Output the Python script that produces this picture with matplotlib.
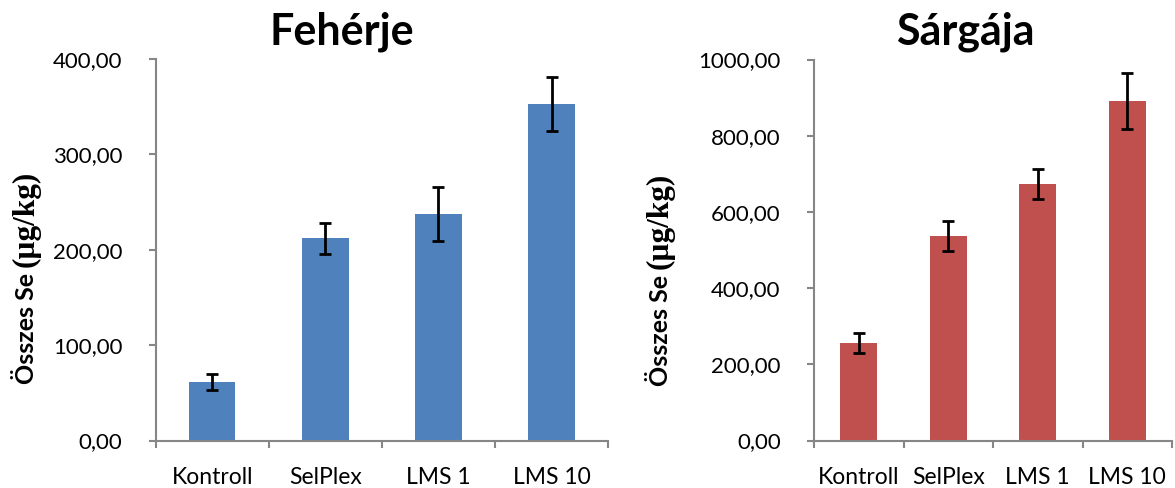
import matplotlib.pyplot as plt
import numpy as np

groups = ["Kontroll", "SelPlex", "LMS 1", "LMS 10"]

# egg white (Fehérje) total Se, mean and error
feherje_mean = [61.5, 212.0, 237.5, 353.0]
feherje_err = [8.5, 16.0, 28.3, 28.3]

# yolk (Sárgája) total Se, mean and error
sargaja_mean = [256.0, 538.0, 674.0, 891.0]
sargaja_err = [27.0, 39.5, 39.5, 73.0]

ylabel = "Összes Se "
unit = "(µg/kg)"

plt.rcParams["font.family"] = ["Lato", "DejaVu Sans"]
axis_grey = "#868686"

fig = plt.figure(figsize=(11.75, 4.88), dpi=100)
ax1 = fig.add_axes([0.1325, 0.0973, 0.3850, 0.7817])
ax2 = fig.add_axes([0.6928, 0.0973, 0.3047, 0.7807])


def draw_panel(ax, means, errs, color, ymax, step):
    x = np.arange(len(groups))
    ax.bar(x, means, width=0.41, color=color, zorder=2)
    ax.errorbar(x, means, yerr=errs, fmt="none", ecolor="black",
                elinewidth=2.0, capsize=4.3, capthick=2.0, zorder=3)
    ax.set_xlim(-0.5, len(groups) - 0.5)
    ax.set_ylim(0, ymax)
    yt = np.arange(0, ymax + 1, step)
    ax.set_yticks(yt)
    ax.set_yticklabels([f"{v:.2f}".replace(".", ",") for v in yt])
    ax.set_xticks(x)
    ax.set_xticklabels(groups)
    ax.set_xticks(np.arange(-0.5, len(groups)), minor=True)
    ax.tick_params(axis="x", which="major", length=0, pad=19, labelsize=16.5)
    ax.tick_params(axis="x", which="minor", length=5, width=1.5, color=axis_grey)
    ax.tick_params(axis="y", length=5, width=1.5, color=axis_grey, pad=19, labelsize=16)
    for side in ("top", "right"):
        ax.spines[side].set_visible(False)
    for side in ("left", "bottom"):
        ax.spines[side].set_color(axis_grey)
        ax.spines[side].set_linewidth(1.5)


draw_panel(ax1, feherje_mean, feherje_err, "#4F81BD", 400, 100)
draw_panel(ax2, sargaja_mean, sargaja_err, "#C0504D", 1000, 200)

fig.text(0.291, 1 - 45 / 488, "Fehérje", ha="center", va="baseline",
         fontsize=31, fontweight="bold")
fig.text(0.8215, 1 - 45 / 488, "Sárgája", ha="center", va="baseline",
         fontsize=31, fontweight="bold")

# y label: sans part then serif unit, stacked along the rotated direction
fig.canvas.draw()
renderer = fig.canvas.get_renderer()
for xpix, ybottom in ((26, 384), (660, 386)):
    t1 = fig.text(xpix / 1175, 1 - ybottom / 488, ylabel, rotation=90,
                  ha="center", va="bottom", fontsize=18, fontweight="bold")
    bb = t1.get_window_extent(renderer)
    fig.text(xpix / 1175, bb.y1 / fig.bbox.height, unit, rotation=90,
             ha="center", va="bottom", fontsize=22.5, fontweight="bold",
             family="Liberation Serif")

fig.savefig("out.png", dpi=100)
